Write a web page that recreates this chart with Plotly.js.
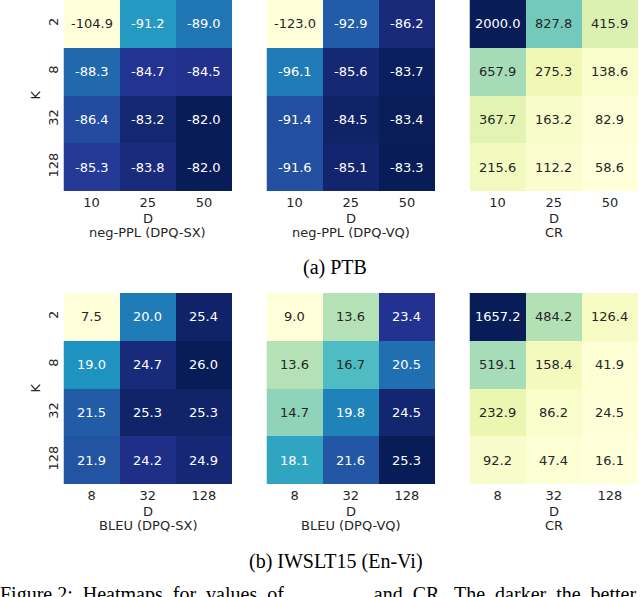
<!DOCTYPE html>
<html>
<head>
<meta charset="utf-8">
<script src="https://cdn.plot.ly/plotly-3.0.1.min.js"></script>
<style>html,body{margin:0;padding:0;background:#fff;}#chart{width:640px;height:597px;}</style>
</head>
<body>
<div id="chart"></div>
<script>
// ---- data ----
const K_LABELS = ['2', '8', '32', '128'];
const PTB_D = ['10', '25', '50'];
const IWSLT_D = ['8', '32', '128'];

const PTB_NEGPPL_SX = [[-104.9, -91.2, -89.0], [-88.3, -84.7, -84.5], [-86.4, -83.2, -82.0], [-85.3, -83.8, -82.0]];
const PTB_NEGPPL_VQ = [[-123.0, -92.9, -86.2], [-96.1, -85.6, -83.7], [-91.4, -84.5, -83.4], [-91.6, -85.1, -83.3]];
const PTB_CR = [[2000.0, 827.8, 415.9], [657.9, 275.3, 138.6], [367.7, 163.2, 82.9], [215.6, 112.2, 58.6]];
const IWSLT_BLEU_SX = [[7.5, 20.0, 25.4], [19.0, 24.7, 26.0], [21.5, 25.3, 25.3], [21.9, 24.2, 24.9]];
const IWSLT_BLEU_VQ = [[9.0, 13.6, 23.4], [13.6, 16.7, 20.5], [14.7, 19.8, 24.5], [18.1, 21.6, 25.3]];
const IWSLT_CR = [[1657.2, 484.2, 126.4], [519.1, 158.4, 41.9], [232.9, 86.2, 24.5], [92.2, 47.4, 16.1]];

const SUBTITLES = ['neg-PPL (DPQ-SX)', 'neg-PPL (DPQ-VQ)', 'CR', 'BLEU (DPQ-SX)', 'BLEU (DPQ-VQ)', 'CR'];
const CAPTION_A = '(a) PTB';
const CAPTION_B = '(b) IWSLT15 (En-Vi)';
const FIG_CAPTION = 'Figure 2:  Heatmaps  for  values  of                  and  CR.  The  darker  the  better.';

// ---- style ----
const W = 640, H = 597;
const YLGNBU = ['#ffffd9', '#edf8b1', '#c7e9b4', '#7fcdbb', '#41b6c4', '#1d91c0', '#225ea8', '#253494', '#081d58'];
const colorscale = YLGNBU.map((c, i) => [i / (YLGNBU.length - 1), c]);
const COL_X = [63.5, 266.5, 469.5];
const CELL_W = 168.5;
const ROW_TOP = [0, 293];
const CELL_H = 191;
const FONT = 'DejaVu Sans, sans-serif';
const TXT = '#262626';

function hexToRgb(h) { return [1, 3, 5].map(i => parseInt(h.substr(i, 2), 16)); }
function colorAt(t) {
  const n = YLGNBU.length - 1;
  const p = Math.max(0, Math.min(1, t)) * n;
  const i = Math.min(Math.floor(p), n - 1);
  const f = p - i;
  const a = hexToRgb(YLGNBU[i]), b = hexToRgb(YLGNBU[i + 1]);
  return a.map((v, k) => v + (b[k] - v) * f);
}
function lum(rgb) {
  const l = rgb.map(v => { v /= 255; return v <= 0.03928 ? v / 12.92 : Math.pow((v + 0.055) / 1.055, 2.4); });
  return 0.2126 * l[0] + 0.7152 * l[1] + 0.0722 * l[2];
}

const panels = [
  { z: PTB_NEGPPL_SX, x: PTB_D }, { z: PTB_NEGPPL_VQ, x: PTB_D }, { z: PTB_CR, x: PTB_D },
  { z: IWSLT_BLEU_SX, x: IWSLT_D }, { z: IWSLT_BLEU_VQ, x: IWSLT_D }, { z: IWSLT_CR, x: IWSLT_D }
];

const data = [];
const layout = {
  width: W, height: H,
  margin: { l: 0, r: 0, t: 0, b: 0 },
  paper_bgcolor: '#fff', plot_bgcolor: '#fff',
  showlegend: false,
  annotations: []
};

panels.forEach((p, idx) => {
  const row = Math.floor(idx / 3), col = idx % 3;
  const n = idx + 1;
  const xa = 'x' + (n === 1 ? '' : n), ya = 'y' + (n === 1 ? '' : n);
  data.push({
    type: 'heatmap', z: p.z, x: p.x, y: K_LABELS,
    xaxis: xa, yaxis: ya, colorscale: colorscale, showscale: false,
    hoverinfo: 'z'
  });
  const x0 = COL_X[col] / W, x1 = (COL_X[col] + CELL_W) / W;
  const y1 = 1 - ROW_TOP[row] / H, y0 = 1 - (ROW_TOP[row] + CELL_H) / H;
  layout['xaxis' + (n === 1 ? '' : n)] = {
    domain: [x0, x1], anchor: ya, type: 'category',
    showgrid: false, zeroline: false, showline: false, ticks: '',
    tickfont: { family: FONT, size: 13, color: TXT }, ticklabelstandoff: 2
  };
  layout['yaxis' + (n === 1 ? '' : n)] = {
    domain: [y0, y1], anchor: xa, type: 'category', autorange: 'reversed',
    showgrid: false, zeroline: false, showline: false, ticks: '',
    showticklabels: col === 0, tickangle: -90,
    tickfont: { family: FONT, size: 13, color: TXT }, ticklabelstandoff: 2
  };
  // cell values (category index positions)
  const flat = p.z.flat();
  const zmin = Math.min(...flat), zmax = Math.max(...flat);
  p.z.forEach((r, i) => r.forEach((v, j) => {
    const c = colorAt((v - zmin) / (zmax - zmin));
    layout.annotations.push({
      xref: xa, yref: ya, x: j, y: i, text: v.toFixed(1), showarrow: false,
      font: { family: FONT, size: 13, color: lum(c) > 0.408 ? TXT : '#ffffff' }
    });
  }));
  const cx = (COL_X[col] + CELL_W / 2) / W;
  const bottom = ROW_TOP[row] + CELL_H;
  layout.annotations.push({
    xref: 'paper', yref: 'paper', x: cx, y: 1 - (bottom + 27) / H, yanchor: 'middle', xanchor: 'center',
    text: 'D', showarrow: false, font: { family: FONT, size: 13, color: TXT }
  });
  layout.annotations.push({
    xref: 'paper', yref: 'paper', x: cx, y: 1 - (bottom + 41.5) / H, yanchor: 'middle', xanchor: 'center',
    text: SUBTITLES[idx], showarrow: false, font: { family: FONT, size: 13, color: TXT }
  });
  if (col === 0) {
    layout.annotations.push({
      xref: 'paper', yref: 'paper', x: 35 / W, y: 1 - (ROW_TOP[row] + CELL_H / 2) / H,
      xanchor: 'center', yanchor: 'middle', textangle: -90,
      text: 'K', showarrow: false, font: { family: FONT, size: 13, color: TXT }
    });
  }
});

const SERIF = 'Liberation Serif, Times New Roman, serif';
layout.annotations.push({
  xref: 'paper', yref: 'paper', x: 335 / W, y: 1 - 267 / H, xanchor: 'center', yanchor: 'middle',
  text: CAPTION_A, showarrow: false, font: { family: SERIF, size: 20, color: '#000' }
});
layout.annotations.push({
  xref: 'paper', yref: 'paper', x: 336 / W, y: 1 - 561 / H, xanchor: 'center', yanchor: 'middle',
  text: CAPTION_B, showarrow: false, font: { family: SERIF, size: 20, color: '#000' }
});
layout.annotations.push({
  xref: 'paper', yref: 'paper', x: -2 / W, y: 1 - 594 / H, xanchor: 'left', yanchor: 'middle',
  text: FIG_CAPTION, showarrow: false, font: { family: SERIF, size: 20, color: '#000' }
});

Plotly.newPlot('chart', data, layout, { staticPlot: true, displayModeBar: false });
</script>
</body>
</html>
